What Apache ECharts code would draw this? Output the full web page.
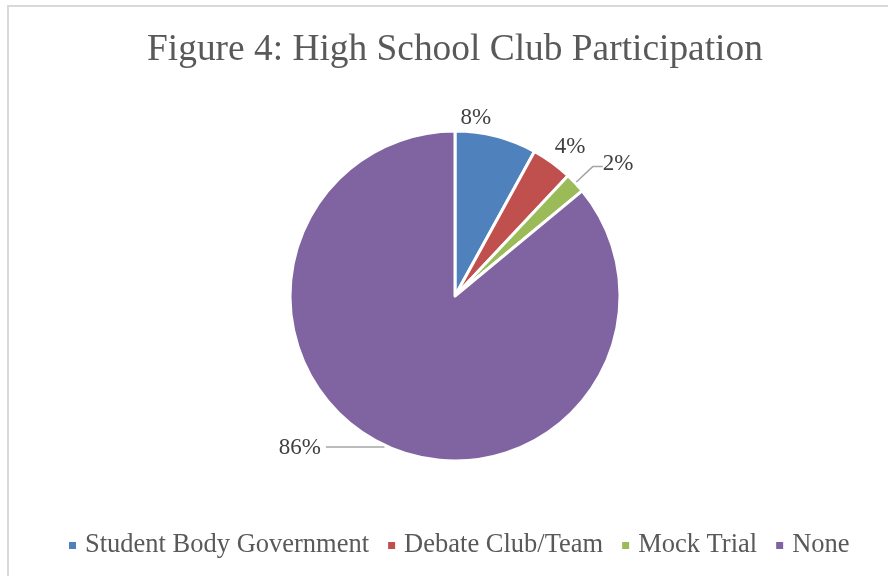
<!DOCTYPE html>
<html>
<head>
<meta charset="utf-8">
<style>
  html, body { margin: 0; padding: 0; background: #fff; }
  #frame {
    position: absolute; left: 7px; top: 5px; width: 900px; height: 600px;
    border-left: 2px solid #d9d9d9; border-top: 2px solid #d9d9d9;
  }
  #chart { position: absolute; left: 0; top: 0; width: 888px; height: 576px; }
</style>
<script src="https://cdn.jsdelivr.net/npm/echarts@6/dist/echarts.min.js"></script>
</head>
<body>
<div id="frame"></div>
<div id="chart"></div>
<script>
const categories = ['Student Body Government', 'Debate Club/Team', 'Mock Trial', 'None']
const percents = [8, 4, 2, 86]
const colors = ['#4F81BD', '#C0504D', '#9BBB59', '#8064A2']

const font = '"Liberation Serif", "Times New Roman", serif'

// leader line only for the small green slice and the big purple one
const lineCfg = [
  { show: false, length: 10, length2: 0 },
  { show: false, length: 10, length2: 0 },
  { show: true, length: 24, length2: 10 },
  { show: true, length: 2, length2: 58 }
]
// nudge labels the way Excel places them
const labelShift = [[-43, -9], [-8, -7], [-5, -3], [0, 1]]

const chart = echarts.init(document.getElementById('chart'))
chart.setOption({
  animation: false,
  title: {
    text: 'Figure 4: High School Club Participation',
    left: 142,
    top: 27,
    textStyle: { fontFamily: font, fontSize: 37.4, fontWeight: 'normal', color: '#595959' }
  },
  legend: {
    bottom: 12,
    left: 62,
    icon: 'rect',
    itemWidth: 9,
    itemHeight: 9,
    itemGap: 17,
    textStyle: { fontFamily: font, fontSize: 26.5, color: '#595959', padding: [0, 0, 0, 3] },
    data: categories
  },
  series: [{
    type: 'pie',
    center: [455, 296],
    radius: 165,
    startAngle: 90,
    clockwise: true,
    avoidLabelOverlap: false,
    itemStyle: { borderColor: '#fff', borderWidth: 3 },
    label: {
      show: true,
      position: 'outside',
      formatter: '{c}%',
      fontFamily: font,
      fontSize: 23,
      color: '#404040'
    },
    labelLine: { lineStyle: { color: '#a6a6a6', width: 1.5 } },
    labelLayout: (p) => ({ dx: labelShift[p.dataIndex][0], dy: labelShift[p.dataIndex][1] }),
    emphasis: { disabled: true },
    data: categories.map((name, i) => ({
      name,
      value: percents[i],
      itemStyle: { color: colors[i] },
      labelLine: lineCfg[i]
    }))
  }]
})
</script>
</body>
</html>
